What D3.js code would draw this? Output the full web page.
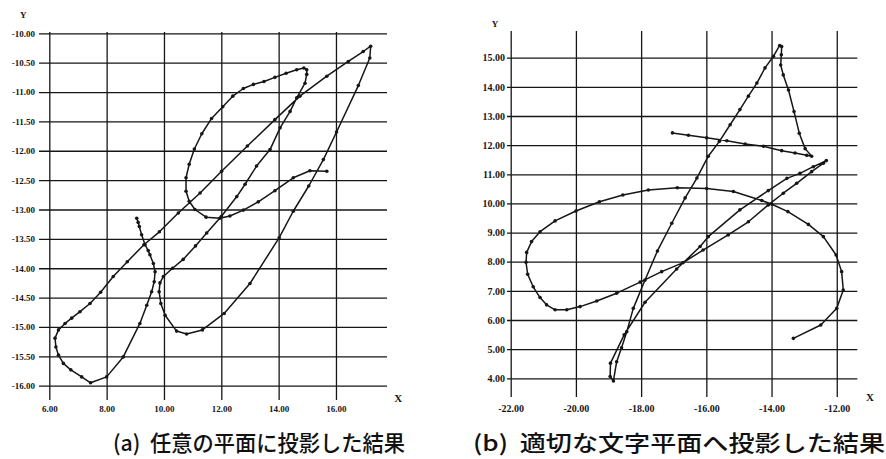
<!DOCTYPE html>
<html><head><meta charset="utf-8">
<script src="https://cdn.jsdelivr.net/npm/d3@7"></script>
<style>body{margin:0;background:#fff}svg{display:block}</style>
</head><body><svg id="c" width="886" height="459"></svg>
<script>
// ---------- Panel (a) ----------
const xTicksA = [6, 8, 10, 12, 14, 16];
const yTicksA = [-10, -10.5, -11, -11.5, -12, -12.5, -13, -13.5, -14, -14.5, -15, -15.5, -16];
const xA = [9.05, 9.10, 9.14, 9.22, 9.34, 9.45, 9.51, 9.63, 9.69, 9.66, 9.57, 9.40, 9.16, 8.58, 8.00, 7.44, 7.13, 6.75, 6.49, 6.32, 6.23, 6.20,
  6.32, 6.55, 6.78, 7.07, 7.42, 7.79, 8.23, 8.72, 9.30, 9.84, 10.50, 11.26, 12.01, 12.91, 13.87, 14.74, 15.68, 16.43, 16.95, 17.21,
  17.18, 16.78, 16.02, 15.56, 15.05, 14.51, 14.02, 13.00, 12.10, 11.34, 10.79, 10.44, 10.04, 9.89, 9.83, 9.86,
  9.98, 10.30, 10.67, 11.10, 11.49, 12.00, 12.54, 12.83, 13.23, 13.70, 14.05, 14.40, 14.63, 14.92, 14.98, 14.98,
  14.88, 14.63, 14.26, 13.87, 13.49, 13.12, 12.77, 12.40, 12.05, 11.66, 11.32, 11.06, 10.88, 10.77, 10.77, 10.88, 11.08,
  11.47, 11.95, 12.30, 12.77, 13.29, 13.87, 14.51, 15.09, 15.68];
const yA = [-13.15, -13.22, -13.29, -13.43, -13.60, -13.70, -13.77, -13.92, -14.06, -14.23, -14.40, -14.63, -14.94, -15.51, -15.85, -15.95, -15.85, -15.73, -15.62, -15.48, -15.34, -15.19,
  -15.05, -14.94, -14.85, -14.74, -14.60, -14.41, -14.14, -13.89, -13.60, -13.38, -13.06, -12.72, -12.35, -11.92, -11.47, -11.07, -10.73, -10.48, -10.31, -10.22,
  -10.42, -10.89, -11.68, -12.15, -12.60, -13.03, -13.48, -14.26, -14.77, -15.05, -15.12, -15.07, -14.80, -14.60, -14.40, -14.25,
  -14.14, -14.00, -13.85, -13.62, -13.40, -13.12, -12.78, -12.57, -12.26, -11.98, -11.61, -11.33, -11.10, -10.85, -10.70, -10.62,
  -10.59, -10.62, -10.68, -10.75, -10.82, -10.87, -10.94, -11.07, -11.25, -11.45, -11.71, -11.97, -12.23, -12.46, -12.69, -12.86, -13.00,
  -13.13, -13.15, -13.11, -13.01, -12.87, -12.68, -12.46, -12.34, -12.35];

// ---------- Panel (b) ----------
const xTicksB = [-22, -20, -18, -16, -14, -12];
const yTicksB = [4, 5, 6, 7, 8, 9, 10, 11, 12, 13, 14, 15];
const xB = [-17.04, -16.55, -15.99, -15.37, -14.81, -14.25, -13.69, -13.28, -12.92, -12.77,
  -12.97, -13.15, -13.31, -13.48, -13.64, -13.72, -13.70, -13.69, -13.75,
  -13.94, -14.20, -14.45, -14.71, -14.97, -15.27, -15.60, -15.94, -16.29, -16.65, -17.06, -17.50, -17.88, -18.24, -18.44, -18.60, -18.75, -18.85,
  -18.95, -18.94, -18.52, -17.88, -16.91, -16.19, -15.94, -14.97, -14.10, -13.53, -13.13, -12.72, -12.32,
  -12.41, -12.77, -13.23, -13.64, -14.10, -14.71, -15.33, -16.10, -16.71, -17.37, -18.03, -18.75, -19.36, -19.87,
  -20.28, -20.64, -20.90, -21.10, -21.31, -21.48, -21.53, -21.51, -21.36, -21.10, -20.64, -20.00, -19.28, -18.56, -17.78, -16.89,
  -15.99, -15.17, -14.30, -13.99, -13.50, -12.87, -12.41, -12.02, -11.85, -11.80, -12.00, -12.49, -13.33];
const yB = [12.42, 12.34, 12.25, 12.15, 12.04, 11.96, 11.81, 11.73, 11.65, 11.62,
  11.88, 12.41, 13.15, 13.89, 14.41, 14.75, 15.10, 15.38, 15.42,
  15.05, 14.65, 14.13, 13.68, 13.22, 12.70, 12.13, 11.62, 10.87, 10.19, 9.32, 8.37, 7.37, 6.40, 5.60, 5.05, 4.57, 3.91,
  4.06, 4.52, 5.49, 6.61, 7.75, 8.52, 8.86, 9.78, 10.44, 10.86, 11.03, 11.26, 11.47,
  11.38, 11.09, 10.69, 10.35, 9.95, 9.37, 8.92, 8.40, 7.97, 7.66, 7.30, 6.92, 6.65, 6.46,
  6.35, 6.35, 6.52, 6.77, 7.14, 7.57, 7.98, 8.32, 8.69, 9.03, 9.40, 9.74, 10.06, 10.29, 10.46, 10.54,
  10.51, 10.41, 10.10, 9.97, 9.72, 9.28, 8.86, 8.23, 7.66, 7.03, 6.40, 5.83, 5.37];

const captions = ["(a)  任意の平面に投影した結果", "(b)  適切な文字平面へ投影した結果"];

const svg = d3.select("#c");
svg.append("rect").attr("width", 886).attr("height", 459).attr("fill", "#fff");

const fmt = d => d.toFixed(2);
const INK = "#161616";

function panel(cfg) {
  const x = d3.scaleLinear().domain(cfg.xDom).range(cfg.xRange);
  const y = d3.scaleLinear().domain(cfg.yDom).range(cfg.yRange);
  const g = svg.append("g");

  // horizontal grid + y labels
  const ya = d3.axisLeft(y).tickValues(cfg.yTicks).tickFormat(fmt)
    .tickSizeInner(-(cfg.hEnd - cfg.hStart)).tickSizeOuter(0).tickPadding(cfg.yPad);
  const gy = g.append("g").attr("transform", `translate(${cfg.hStart},0)`).call(ya);
  gy.select(".domain").remove();
  gy.selectAll("line").attr("stroke", INK).attr("stroke-width", 1.3);
  gy.selectAll("text").attr("font-family", "'Liberation Serif', 'Times New Roman', serif")
    .attr("font-weight", "bold").attr("font-size", cfg.fs).attr("fill", INK);

  // vertical grid + x labels
  const xa = d3.axisBottom(x).tickValues(cfg.xTicks).tickFormat(fmt)
    .tickSizeInner(-(cfg.vEnd - cfg.vStart)).tickSizeOuter(0).tickPadding(cfg.xPad);
  const gx = g.append("g").attr("transform", `translate(0,${cfg.vEnd})`).call(xa);
  gx.select(".domain").remove();
  gx.selectAll("line").attr("stroke", INK).attr("stroke-width", 1.3);
  gx.selectAll("text").attr("font-family", "'Liberation Serif', 'Times New Roman', serif")
    .attr("font-weight", "bold").attr("font-size", cfg.fs).attr("fill", INK);

  // axis names
  g.append("text").attr("x", cfg.yLab[0]).attr("y", cfg.yLab[1]).attr("text-anchor", "middle")
    .attr("dominant-baseline", "central")
    .attr("font-family", "'Liberation Serif', serif").attr("font-weight", "bold").attr("font-size", 9).attr("fill", INK).text("Y");
  g.append("text").attr("x", cfg.xLab[0]).attr("y", cfg.xLab[1]).attr("text-anchor", "middle")
    .attr("dominant-baseline", "central")
    .attr("font-family", "'Liberation Serif', serif").attr("font-weight", "bold").attr("font-size", 11).attr("fill", INK).text("X");

  // trajectory
  const pts = cfg.xs.map((v, i) => [v, cfg.ys[i]]);
  const line = d3.line().x(d => x(d[0])).y(d => y(d[1]));
  g.append("path").attr("d", line(pts)).attr("fill", "none").attr("stroke", INK)
    .attr("stroke-width", 1.5).attr("stroke-linejoin", "round");
  g.selectAll("circle.m").data(pts).join("circle").attr("class", "m")
    .attr("cx", d => x(d[0])).attr("cy", d => y(d[1])).attr("r", 1.8).attr("fill", INK);

  // caption
  svg.append("text").attr("x", cfg.cap[0]).attr("y", cfg.cap[1])
    .attr("font-family", "'Noto Sans CJK JP', 'Noto Sans', sans-serif").attr("font-weight", 500)
    .attr("font-size", 22).attr("fill", "#111")
    .attr("textLength", cfg.cap[2]).attr("lengthAdjust", "spacingAndGlyphs")
    .style("white-space", "pre").text(cfg.capText);
}

panel({
  xDom: [6, 17.78], xRange: [49.3, 387], yDom: [-16, -10], yRange: [385.7, 33.3],
  xTicks: xTicksA, yTicks: yTicksA, hStart: 39, hEnd: 387, vStart: 32, vEnd: 400,
  yPad: 4, xPad: 6, fs: 9, yLab: [23.3, 15], xLab: [398.3, 398.3],
  xs: xA, ys: yA, cap: [113, 451, 292], capText: captions[0]
});
panel({
  xDom: [-22, -11.37], xRange: [510.7, 857.3], yDom: [4, 15], yRange: [378.3, 57.7],
  xTicks: xTicksB, yTicks: yTicksB, hStart: 507, hEnd: 857.3, vStart: 31, vEnd: 397,
  yPad: 2, xPad: 8, fs: 10, yLab: [495, 24], xLab: [870, 397.3],
  xs: xB, ys: yB, cap: [473, 451, 412], capText: captions[1]
});
</script></body></html>
